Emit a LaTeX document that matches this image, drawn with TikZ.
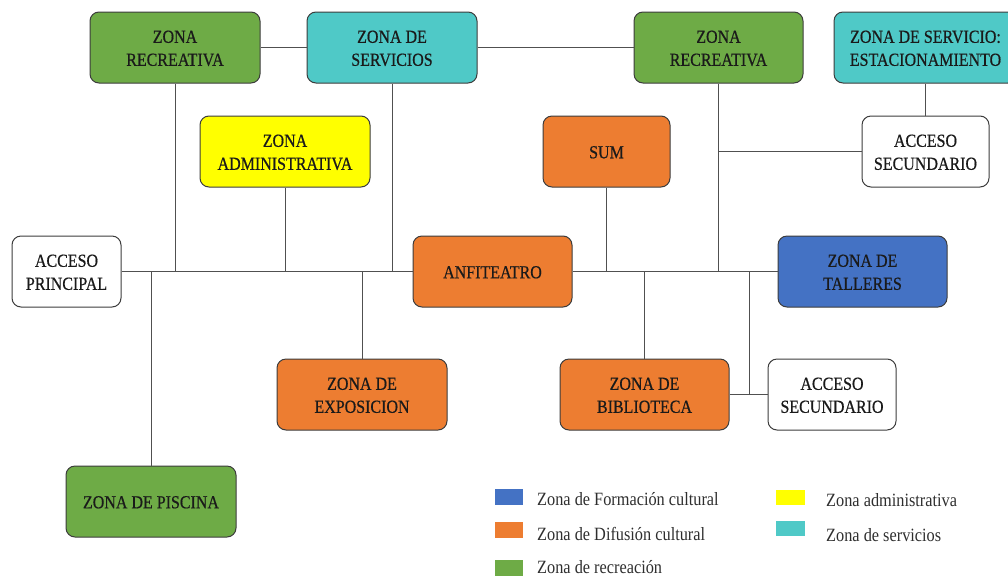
\documentclass[tikz,border=0pt]{standalone}
\usepackage{fontspec}
\usepackage{graphicx}
\setmainfont{Liberation Serif}
\newfontfamily\boxfont{Liberation Serif}[FakeBold=0.6]
\definecolor{cgreen}{HTML}{6EAB46}
\definecolor{ccyan}{HTML}{4FC9C7}
\definecolor{cyellow}{HTML}{FFFF00}
\definecolor{corange}{HTML}{ED7D31}
\definecolor{cblue}{HTML}{4472C4}
\definecolor{boxline}{HTML}{3C3C3C}
\definecolor{linec}{HTML}{505050}
\definecolor{txt}{HTML}{1A1A1A}
\definecolor{legtxt}{HTML}{2E2E2E}
\newcommand{\zt}[1]{\raisebox{-2.2pt}[\height][\depth]{\scalebox{1}[1.15]{\begin{tabular}{@{}c@{}}#1\end{tabular}}}}
\newcommand{\lt}[1]{\scalebox{1}[1.15]{#1}}
\begin{document}
\begin{tikzpicture}[x=1pt,y=-1pt,
  box/.style={draw=boxline, line width=1pt, rounded corners=9pt, minimum height=71pt, inner sep=0pt, align=center, font=\boxfont\fontsize{16}{20}\selectfont, text=txt},
  link/.style={draw=linec, line width=0.9pt},
  legsq/.style={inner sep=0pt, minimum width=28pt, minimum height=16pt},
  legtext/.style={anchor=base west, inner sep=0pt, font=\fontsize{16.3}{20}\selectfont, text=legtxt}]
\useasboundingbox (0,0) rectangle (1008,576);
% boxes
\node[box, fill=cgreen, minimum width=170pt] (rec1) at (175,47.5) {\zt{ZONA\\RECREATIVA}};
\node[box, fill=ccyan, minimum width=170pt] (serv) at (392,47.5) {\zt{ZONA DE\\SERVICIOS}};
\node[box, fill=cgreen, minimum width=169pt] (rec2) at (718.5,47.5) {\zt{ZONA\\RECREATIVA}};
\node[box, fill=ccyan, minimum width=183pt] (est) at (925.5,47.5) {\zt{ZONA DE SERVICIO:\\ESTACIONAMIENTO}};
\node[box, fill=cyellow, minimum width=170pt] (adm) at (285,151.5) {\zt{ZONA\\ADMINISTRATIVA}};
\node[box, fill=corange, minimum width=127pt] (sum) at (606.5,151.5) {\zt{SUM}};
\node[box, fill=white, minimum width=127pt] (accs1) at (925.5,151.5) {\zt{ACCESO\\SECUNDARIO}};
\node[box, fill=white, minimum width=109pt] (acc1) at (66.5,271.5) {\zt{ACCESO\\PRINCIPAL}};
\node[box, fill=corange, minimum width=159pt] (anf) at (492.5,271.5) {\zt{ANFITEATRO}};
\node[box, fill=cblue, minimum width=169pt] (tal) at (862.5,271.5) {\zt{ZONA DE\\TALLERES}};
\node[box, fill=corange, minimum width=170pt] (expo) at (362,394.5) {\zt{ZONA DE\\EXPOSICION}};
\node[box, fill=corange, minimum width=169pt] (bib) at (644.5,394.5) {\zt{ZONA DE\\BIBLIOTECA}};
\node[box, fill=white, minimum width=128pt] (accs2) at (832,394.5) {\zt{ACCESO\\SECUNDARIO}};
\node[box, fill=cgreen, minimum width=170pt] (pisc) at (151,501.5) {\zt{ZONA DE PISCINA}};
% connectors
\draw[link] (rec1.east) -- (serv.west);
\draw[link] (serv.east) -- (rec2.west);
\draw[link] (est.south) -- (accs1.north);
\draw[link] (acc1.east) -- (anf.west);
\draw[link] (anf.east) -- (tal.west);
\draw[link] (rec1.south) -- (rec1.south |- acc1.east);
\draw[link] (adm.south) -- (adm.south |- acc1.east);
\draw[link] (serv.south) -- (serv.south |- acc1.east);
\draw[link] (expo.north) -- (expo.north |- acc1.east);
\draw[link] (pisc.north) -- (pisc.north |- acc1.east);
\draw[link] (rec2.south) -- (rec2.south |- anf.east);
\draw[link] (accs1.west) -- (accs1.west -| rec2.south);
\draw[link] (sum.south) -- (sum.south |- anf.east);
\draw[link] (bib.north) -- (bib.north |- anf.east);
\draw[link] (bib.east) -- (accs2.west);
\coordinate (j) at (749,394.5);
\draw[link] (j) -- (j |- anf.east);
% legend
\node[legsq, fill=cblue] (lb) at (509,497) {};
\node[legsq, fill=corange] (lo) at (509,530) {};
\node[legsq, fill=cgreen] (lg) at (509,568) {};
\node[legsq, fill=cyellow, minimum width=29pt, minimum height=15pt] (ly) at (790.5,497.5) {};
\node[legsq, fill=ccyan, minimum width=29pt, minimum height=15pt] (lc) at (790.5,528.5) {};
\node[legtext] (tb) at (537,505) {\lt{Zona de Formación cultural}};
\node[legtext] (to) at (537,540) {\lt{Zona de Difusión cultural}};
\node[legtext] (tg) at (537,573) {\lt{Zona de recreación}};
\node[legtext] (ty) at (826,506) {\lt{Zona administrativa}};
\node[legtext] (tc) at (826,541) {\lt{Zona de servicios}};
\end{tikzpicture}
\end{document}
